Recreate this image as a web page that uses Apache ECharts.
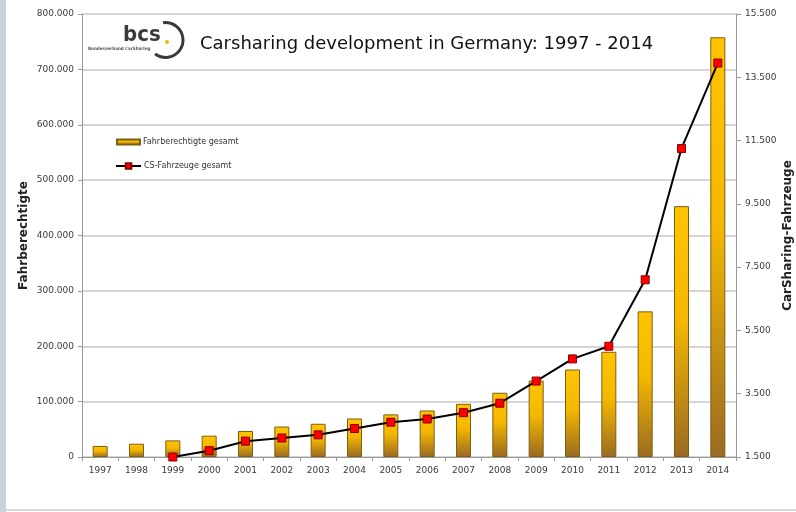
<!DOCTYPE html>
<html>
<head>
<meta charset="utf-8">
<script src="https://cdn.jsdelivr.net/npm/echarts@6/dist/echarts.min.js"></script>
<style>
html,body{margin:0;padding:0;background:#fff;overflow:hidden;}
#c{width:796px;height:512px;}
</style>
</head>
<body>
<div id="c"></div>
<script>
const years = ['1997','1998','1999','2000','2001','2002','2003','2004','2005','2006','2007','2008','2009','2010','2011','2012','2013','2014'];
const users = [20000,24000,30000,38500,47000,55000,60000,69500,77000,84000,96000,116000,138000,158000,190000,263000,453000,758000];
const vehicles = [null,null,1500,1700,2000,2100,2200,2400,2600,2700,2900,3200,3900,4600,5000,7100,11250,13950];
const leftTicks = {min:0, max:800000, interval:100000};
const rightTicks = {min:1500, max:15500, interval:2000};
const title = 'Carsharing development in Germany: 1997 - 2014';
const barName = 'Fahrberechtigte gesamt';
const lineName = 'CS-Fahrzeuge gesamt';
const leftAxisName = 'Fahrberechtigte';
const rightAxisName = 'CarSharing-Fahrzeuge';

function fmt(v){ return String(v).replace(/\B(?=(\d{3})+(?!\d))/g,'.'); }

const chart = echarts.init(document.getElementById('c'), null, {renderer:'canvas', width:796, height:512});
const labelStyle = {fontFamily:'DejaVu Sans', fontSize:9, color:'#3a3a3a'};
chart.setOption({
  animation:false,
  backgroundColor:'#fff',
  grid:{left:82, right:60, top:14, bottom:55, containLabel:false, outerBoundsMode:'none'},
  legend:[
    {data:[{name:barName, icon:'rect'}], left:111, top:133, orient:'vertical', itemWidth:23, itemHeight:5, itemGap:5,
     textStyle:{fontFamily:'DejaVu Sans', fontSize:8, color:'#333', padding:[0,0,0,-2]}},
    {data:[{name:lineName}], left:110, top:157, orient:'vertical', itemWidth:25, itemHeight:7,
     textStyle:{fontFamily:'DejaVu Sans', fontSize:8, color:'#333', padding:[0,0,0,-2]}}
  ],
  xAxis:{type:'category', data:years,
    axisLine:{lineStyle:{color:'#999', width:1}},
    axisTick:{show:true, length:4, lineStyle:{color:'#999'}},
    axisLabel:Object.assign({margin:9}, labelStyle)},
  yAxis:[
    {type:'value', min:leftTicks.min, max:leftTicks.max, interval:leftTicks.interval, position:'left',
     name:leftAxisName, nameLocation:'middle', nameGap:52, nameMoveOverlap:false,
     nameTextStyle:{fontFamily:'DejaVu Sans', fontWeight:'bold', fontSize:12, color:'#222'},
     axisLine:{show:true, lineStyle:{color:'#999'}},
     axisTick:{show:true, length:4, lineStyle:{color:'#999'}},
     axisLabel:Object.assign({margin:8, formatter:fmt}, labelStyle),
     splitLine:{lineStyle:{color:'#c8c8c8', width:1.5}}},
    {type:'value', min:rightTicks.min, max:rightTicks.max, interval:rightTicks.interval, position:'right',
     name:rightAxisName, nameLocation:'middle', nameGap:46, nameMoveOverlap:false,
     nameTextStyle:{fontFamily:'DejaVu Sans', fontWeight:'bold', fontSize:12, color:'#222'},
     axisLine:{show:true, lineStyle:{color:'#999'}},
     axisTick:{show:true, length:5, lineStyle:{color:'#999'}},
     axisLabel:Object.assign({margin:9, formatter:fmt}, labelStyle),
     splitLine:{show:false}}
  ],
  series:[
    {name:barName, type:'bar', data:users, barWidth:15, yAxisIndex:0,
     itemStyle:{
       color:new echarts.graphic.LinearGradient(0,0,0,1,[
         {offset:0,color:'#FFC400'},{offset:0.45,color:'#F4B800'},{offset:1,color:'#9A6A22'}]),
       borderColor:'#7d5f12', borderWidth:1}},
    {name:lineName, type:'line', data:vehicles, yAxisIndex:1,
     lineStyle:{color:'#000', width:2}, itemStyle:{color:'#FF0000', borderColor:'#8a0000', borderWidth:1},
     symbol:'rect', symbolSize:8, showSymbol:true, connectNulls:false, z:5}
  ],
  graphic:[
    {type:'rect', left:0, top:0, shape:{width:6, height:512}, style:{fill:'#c9d1d9'}, silent:true},
    {type:'rect', left:6, top:509, shape:{width:790, height:2}, style:{fill:'#d6d9dc'}, silent:true},
    {type:'text', left:200, top:35, style:{text:title, fontFamily:'DejaVu Sans', fontSize:18, fill:'#111'}},
    {type:'text', left:123, top:24, style:{text:'bcs', fontFamily:'DejaVu Sans Condensed', fontWeight:'bold', fontSize:22, fill:'#3a3a3a'}},
    {type:'circle', shape:{cx:167, cy:42, r:2}, style:{fill:'#F5B800'}},
    {type:'arc', shape:{cx:165.6, cy:40, r:17.4, startAngle:-1.72, endAngle:2.22, clockwise:true}, style:{stroke:'#3a3a3a', lineWidth:3, fill:null}},
    {type:'text', left:88, top:46, style:{text:'Bundesverband CarSharing', fontFamily:'DejaVu Sans Condensed', fontWeight:'bold', fontSize:4.5, fill:'#555'}}
  ]
});
</script>
</body>
</html>
